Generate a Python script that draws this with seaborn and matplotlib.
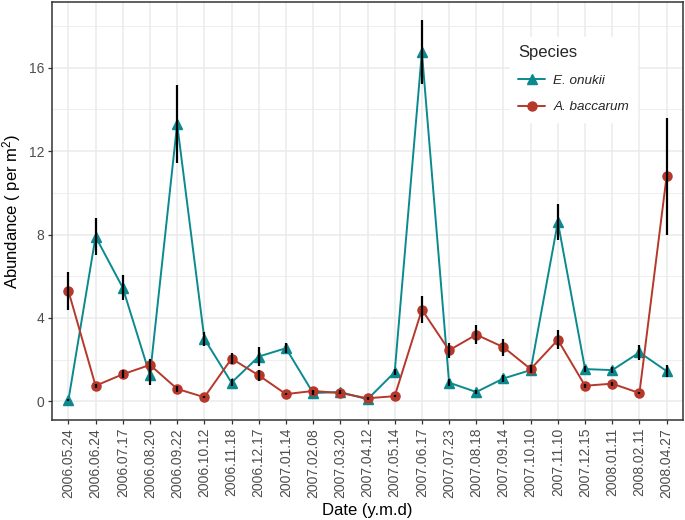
import matplotlib
matplotlib.use("Agg")
import matplotlib.pyplot as plt
import seaborn as sns
import pandas as pd
import numpy as np
from matplotlib.lines import Line2D

dates = ["2006.05.24", "2006.06.24", "2006.07.17", "2006.08.20", "2006.09.22",
         "2006.10.12", "2006.11.18", "2006.12.17", "2007.01.14", "2007.02.08",
         "2007.03.20", "2007.04.12", "2007.05.14", "2007.06.17", "2007.07.23",
         "2007.08.18", "2007.09.14", "2007.10.10", "2007.11.10", "2007.12.15",
         "2008.01.11", "2008.02.11", "2008.04.27"]

onukii = [0.05, 7.9, 5.45, 1.25, 13.3, 3.0, 0.9, 2.15, 2.55, 0.4, 0.45, 0.1,
          1.4, 16.75, 0.9, 0.45, 1.1, 1.5, 8.6, 1.55, 1.5, 2.35, 1.45]
onukii_se = [0.05, 0.9, 0.6, 0.45, 1.85, 0.35, 0.15, 0.45, 0.25, 0.1, 0.1, 0.05,
             0.15, 1.55, 0.15, 0.1, 0.15, 0.15, 0.85, 0.15, 0.15, 0.35, 0.3]

baccarum = [5.3, 0.75, 1.3, 1.75, 0.6, 0.2, 2.05, 1.25, 0.35, 0.5, 0.4, 0.15,
            0.25, 4.4, 2.45, 3.2, 2.6, 1.55, 2.95, 0.75, 0.85, 0.4, 10.8]
baccarum_se = [0.9, 0.1, 0.2, 0.3, 0.15, 0.05, 0.25, 0.25, 0.05, 0.05, 0.05, 0.05,
               0.05, 0.65, 0.35, 0.45, 0.4, 0.2, 0.45, 0.1, 0.1, 0.05, 2.8]

species = ["E. onukii", "A. baccarum"]
colors = ["#0A8A8F", "#B5382A"]

df = pd.DataFrame({
    "Date": dates * 2,
    "Abundance": onukii + baccarum,
    "SE": onukii_se + baccarum_se,
    "Species": [species[0]] * len(dates) + [species[1]] * len(dates),
})

sns.set_theme(style="whitegrid")
plt.rcParams["font.family"] = ["Liberation Sans", "DejaVu Sans"]
plt.rcParams["mathtext.fontset"] = "custom"
plt.rcParams["mathtext.rm"] = "Liberation Sans"
plt.rcParams["mathtext.it"] = "Liberation Sans:italic"

fig = plt.figure(figsize=(6.85, 5.2), dpi=100)
ax = fig.add_axes([0.076, 0.192, 0.921, 0.804])

sns.pointplot(data=df, x="Date", y="Abundance", hue="Species", order=dates,
              hue_order=species, palette=colors, markers=["^", "o"],
              linestyles=["-", "-"], errorbar=None, ax=ax, legend=False,
              markersize=6.5, linewidth=1.4)

xpos = np.arange(len(dates))
ax.vlines(xpos, np.array(onukii) - np.array(onukii_se), np.array(onukii) + np.array(onukii_se),
          color="black", linewidth=1.6, zorder=5)
ax.vlines(xpos, np.array(baccarum) - np.array(baccarum_se), np.array(baccarum) + np.array(baccarum_se),
          color="black", linewidth=1.6, zorder=5)

ax.set_xlim(-0.6, len(dates) - 0.4)
ax.set_ylim(-0.9, 19.15)
ax.set_yticks([0, 4, 8, 12, 16])
ax.set_yticks([2, 6, 10, 14, 18], minor=True)
ax.grid(True, which="major", color="#EBEBEB", linewidth=1.1)
ax.grid(True, which="minor", axis="y", color="#EBEBEB", linewidth=0.6)
ax.set_facecolor("white")
for s in ax.spines.values():
    s.set_color("#333333")
    s.set_linewidth(1.1)
    s.set_visible(True)

ax.tick_params(axis="both", which="major", length=3, color="#333333", labelcolor="#4D4D4D",
               labelsize=10, width=0.9, bottom=True, left=True, pad=2.5)
ax.tick_params(axis="both", which="minor", length=0)
plt.setp(ax.get_xticklabels(), rotation=90)

ax.set_xlabel("Date (y.m.d)", fontsize=12, color="black", labelpad=4)
ax.set_ylabel("Abundance ( per m$^2$)", fontsize=12, color="black", labelpad=4)

handles = [Line2D([0], [0], color=colors[0], marker="^", markersize=6.5, linewidth=1.4),
           Line2D([0], [0], color=colors[1], marker="o", markersize=6.5, linewidth=1.4)]
leg = ax.legend(handles, species, title="Species", loc="upper left",
                bbox_to_anchor=(0.726, 0.916), frameon=True,
                title_fontsize=12, prop={"style": "italic", "size": 9.7},
                handlelength=2.0, handletextpad=0.6, labelspacing=1.05,
                borderpad=0.6, borderaxespad=0)
leg.get_frame().set_edgecolor("white")
leg.get_frame().set_facecolor("white")
leg.get_frame().set_alpha(1)
leg.get_frame().set_boxstyle("square", pad=0)
leg._legend_box.align = "left"

fig.savefig("out.png", dpi=100)
